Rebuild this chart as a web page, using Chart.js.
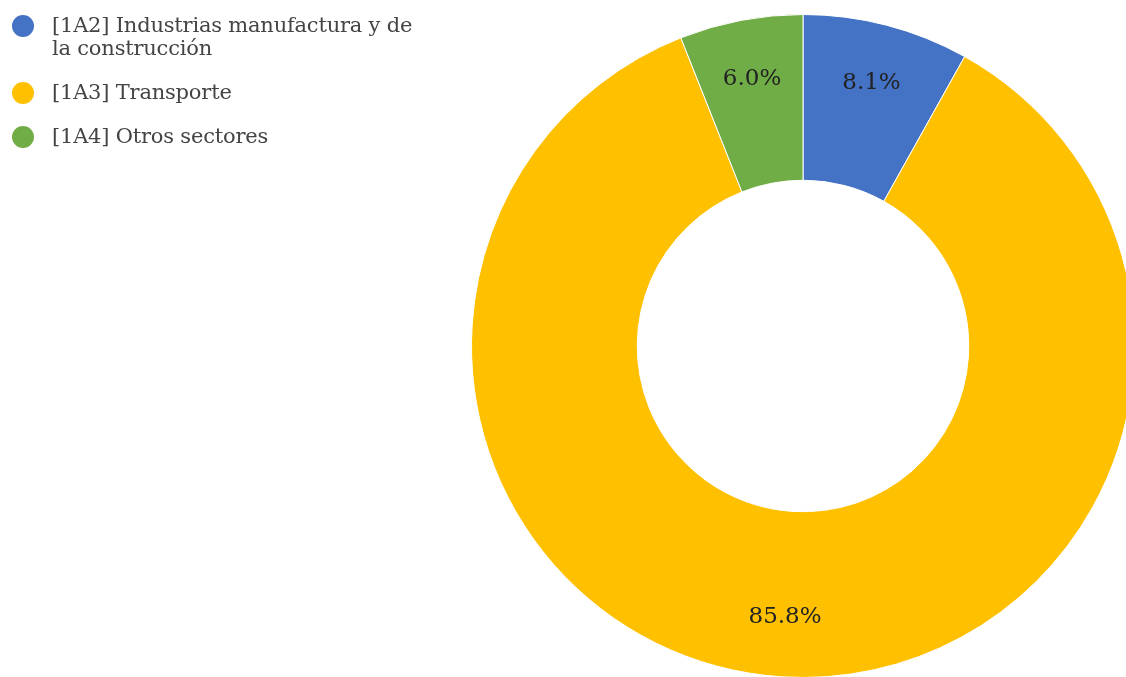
<!DOCTYPE html>
<html lang="es">
<head>
<meta charset="utf-8">
<title>Emisiones por sector</title>
<script src="https://cdn.jsdelivr.net/npm/chart.js@4/dist/chart.umd.min.js"></script>
<style>
    html, body { margin: 0; padding: 0; background: #fff; overflow: hidden; width: 1126px; height: 677px; }
    #wrap { position: absolute; left: 0; top: 0; width: 1126px; height: 677px; overflow: hidden; }
    #chart { position: absolute; left: 0; top: 0; }
    #legend { position: absolute; left: 12px; top: 14px; width: 420px; font-family: "DejaVu Serif", serif; font-size: 21px; color: #444; }
    .item { display: flex; align-items: flex-start; margin-bottom: 21px; }
    .dot { width: 22px; height: 22px; border-radius: 50%; margin-top: 1px; margin-right: 18px; flex: none; }
    .txt { line-height: 23px; width: 372px; letter-spacing: -0.2px; }
</style>
</head>
<body>
<div id="wrap">
    <canvas id="chart" width="1140" height="690"></canvas>
    <div id="legend"></div>
</div>
<script>
const labels = [
    '[1A2] Industrias manufactura y de la construcción',
    '[1A3] Transporte',
    '[1A4] Otros sectores'
];
const shares = [8.1, 85.8, 6.0];
const colors = ['#4472C4', '#FFC000', '#70AD47'];

// percentage text inside each slice
const sliceLabels = {
    id: 'sliceLabels',
    afterDatasetsDraw(chart) {
        const ctx = chart.ctx;
        const meta = chart.getDatasetMeta(0);
        ctx.save();
        ctx.font = '23px "DejaVu Serif", serif';
        ctx.fillStyle = '#222';
        ctx.textAlign = 'center';
        ctx.textBaseline = 'middle';
        meta.data.forEach((arc, i) => {
            const p = arc.getProps(['x', 'y', 'startAngle', 'endAngle', 'innerRadius', 'outerRadius']);
            const mid = (p.startAngle + p.endAngle) / 2;
            const r = p.innerRadius + (p.outerRadius - p.innerRadius) * 0.64;
            const x = p.x + Math.cos(mid) * r;
            const y = p.y + Math.sin(mid) * r;
            ctx.fillText(shares[i].toFixed(1) + '%', x, y);
        });
        ctx.restore();
    }
};

const legendEl = document.getElementById('legend');
labels.forEach((label, i) => {
    const row = document.createElement('div');
    row.className = 'item';
    const dot = document.createElement('span');
    dot.className = 'dot';
    dot.style.background = colors[i];
    const txt = document.createElement('span');
    txt.className = 'txt';
    txt.textContent = label;
    row.appendChild(dot);
    row.appendChild(txt);
    legendEl.appendChild(row);
});

new Chart(document.getElementById('chart'), {
    type: 'doughnut',
    data: {
        labels: labels,
        datasets: [{
            data: shares,
            backgroundColor: colors,
            borderColor: '#fff',
            borderWidth: 1
        }]
    },
    options: {
        responsive: false,
        animation: false,
        devicePixelRatio: 1,
        cutout: '50%',
        layout: { padding: { left: 471, right: 5, top: 13, bottom: 11 } },
        plugins: {
            legend: { display: false },
            tooltip: { enabled: false }
        }
    },
    plugins: [sliceLabels]
});
</script>
</body>
</html>
